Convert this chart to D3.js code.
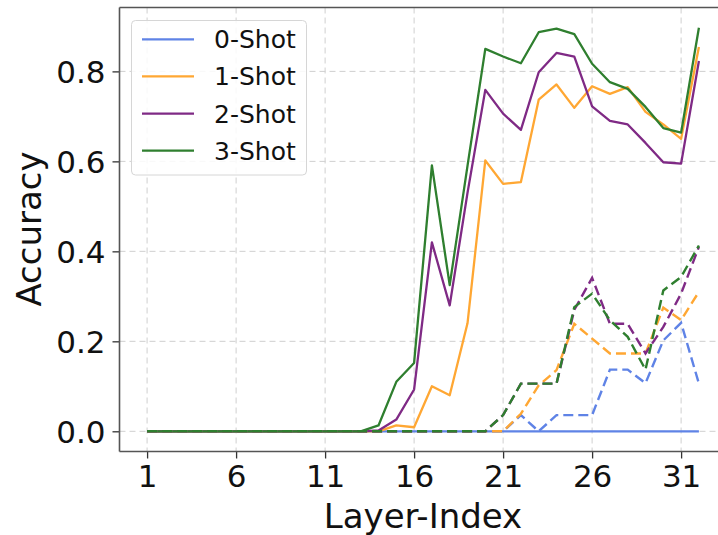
<!DOCTYPE html>
<html><head><meta charset="utf-8">
<script src="https://cdn.jsdelivr.net/npm/d3@7"></script>
<style>body{margin:0;background:#fff;} svg{display:block;font-family:"DejaVu Sans",sans-serif;}</style>
</head><body>
<svg id="c" width="718" height="535"></svg>
<script>
const layers = [1,2,3,4,5,6,7,8,9,10,11,12,13,14,15,16,17,18,19,20,21,22,23,24,25,26,27,28,29,30,31,32];
const xTicks = [1,6,11,16,21,26,31];
const yTicks = [0.0,0.2,0.4,0.6,0.8];
const seriesNames = ["0-Shot","1-Shot","2-Shot","3-Shot"];

// solid lines
const shot0 = [0,0,0,0,0,0,0,0,0,0,0,0,0,0,0,0,0,0,0,0,0,0,0,0,0,0,0,0,0,0,0,0];
const shot1 = [0,0,0,0,0,0,0,0,0,0,0,0,0,0,0.013,0.009,0.10,0.08,0.24,0.602,0.55,0.554,0.737,0.771,0.719,0.767,0.75,0.765,0.71,0.682,0.65,0.854];
const shot2 = [0,0,0,0,0,0,0,0,0,0,0,0,0,0.002,0.026,0.093,0.42,0.28,0.53,0.759,0.706,0.67,0.798,0.841,0.833,0.722,0.69,0.682,0.641,0.598,0.595,0.823];
const shot3 = [0,0,0,0,0,0,0,0,0,0,0,0,0,0.013,0.11,0.152,0.591,0.325,0.59,0.85,0.833,0.818,0.887,0.895,0.883,0.817,0.776,0.761,0.721,0.674,0.664,0.897];
// dashed lines
const dash0 = [0,0,0,0,0,0,0,0,0,0,0,0,0,0,0,0,0,0,0,0,0,0.036,0,0.036,0.036,0.036,0.137,0.137,0.107,0.202,0.241,0.106];
const dash1 = [0,0,0,0,0,0,0,0,0,0,0,0,0,0,0,0,0,0,0,0,0,0.039,0.102,0.136,0.239,0.206,0.173,0.173,0.173,0.275,0.247,0.31];
const dash2 = [0,0,0,0,0,0,0,0,0,0,0,0,0,0,0,0,0,0,0,0,0.036,0.106,0.106,0.106,0.27,0.341,0.239,0.239,0.173,0.232,0.306,0.41];
const dash3 = [0,0,0,0,0,0,0,0,0,0,0,0,0,0,0,0,0,0,0,0,0.036,0.106,0.106,0.106,0.276,0.306,0.247,0.21,0.137,0.313,0.343,0.413];

const colors = ["#5f83e6","#ffa733","#7f2a85","#2f7f2f"];
const solids = [shot0,shot1,shot2,shot3];
const dashes = [dash0,dash1,dash2,dash3];

(function(){
const svg = d3.select("#c");
const pL = 119.5, pR = 726.5, pT = 7.5, pB = 451.5;
const x = d3.scaleLinear().domain([-0.55, 33.55]).range([pL, pR]);
const y = d3.scaleLinear().domain([-0.0449, 0.942]).range([pB, pT]);

svg.append("defs").append("clipPath").attr("id","clip")
  .append("rect").attr("x",pL).attr("y",pT).attr("width",pR-pL).attr("height",pB-pT);

// grid
const grid = svg.append("g");
grid.selectAll(".gx").data(xTicks).join("line")
  .attr("x1",d=>x(d)).attr("x2",d=>x(d)).attr("y1",pT).attr("y2",pB)
  .attr("stroke","#cfcfcf").attr("stroke-width",1).attr("stroke-dasharray","6,4");
grid.selectAll(".gy").data(yTicks).join("line")
  .attr("x1",pL).attr("x2",pR).attr("y1",d=>y(d)).attr("y2",d=>y(d))
  .attr("stroke","#cfcfcf").attr("stroke-width",1).attr("stroke-dasharray","6,4");

// axes
const xAxis = d3.axisBottom(x).tickValues(xTicks).tickFormat(d3.format("d")).tickSizeOuter(0).tickSize(7).tickPadding(6);
const yAxis = d3.axisLeft(y).tickValues(yTicks).tickFormat(d3.format(".1f")).tickSizeOuter(0).tickSize(7).tickPadding(7);
const gx = svg.append("g").attr("transform",`translate(0,${pB})`).call(xAxis);
const gy = svg.append("g").attr("transform",`translate(${pL},0)`).call(yAxis);
[gx,gy].forEach(g=>{
  g.select(".domain").remove();
  g.selectAll(".tick line").attr("stroke","#333").attr("stroke-width",1.3);
  g.selectAll(".tick text").attr("font-size",31).attr("fill","#111").attr("font-family","DejaVu Sans");
});
gy.selectAll(".tick text").attr("dy","0.36em");

// lines
const line = d3.line().x((d,i)=>x(layers[i])).y(d=>y(d));
const plot = svg.append("g").attr("clip-path","url(#clip)");
solids.forEach((s,i)=>{
  plot.append("path").datum(s).attr("d",line).attr("fill","none")
    .attr("stroke",colors[i]).attr("stroke-width",2.3).attr("stroke-linejoin","round");
});
dashes.forEach((s,i)=>{
  plot.append("path").datum(s).attr("d",line).attr("fill","none")
    .attr("stroke",colors[i]).attr("stroke-width",2.4).attr("stroke-dasharray","10,5");
});

// spines
svg.append("line").attr("x1",pL).attr("x2",pL).attr("y1",pT).attr("y2",pB).attr("stroke","#555").attr("stroke-width",1.6);
svg.append("line").attr("x1",pL).attr("x2",pR).attr("y1",pB).attr("y2",pB).attr("stroke","#555").attr("stroke-width",1.6);
svg.append("line").attr("x1",pL).attr("x2",pR).attr("y1",pT).attr("y2",pT).attr("stroke","#555").attr("stroke-width",1.6);

// labels
svg.append("text").attr("x",(x(1)+x(32))/2).attr("y",528).attr("text-anchor","middle")
  .attr("font-size",34).attr("fill","#111").text("Layer-Index");
svg.append("text").attr("transform","translate(41,229) rotate(-90)").attr("text-anchor","middle")
  .attr("font-size",34).attr("fill","#111").text("Accuracy");

// legend
const lg = svg.append("g");
lg.append("rect").attr("x",131.5).attr("y",20.5).attr("width",175).attr("height",154.5).attr("rx",4)
  .attr("fill","#fff").attr("fill-opacity",0.85).attr("stroke","#d6d6d6").attr("stroke-width",1);
const ly = [39.3,76.3,113.7,150.7];
seriesNames.forEach((n,i)=>{
  lg.append("line").attr("x1",142).attr("x2",194).attr("y1",ly[i]).attr("y2",ly[i])
    .attr("stroke",colors[i]).attr("stroke-width",2.3);
  lg.append("text").attr("x",214).attr("y",ly[i]+9).attr("font-size",25).attr("fill","#111").text(n);
});
})();
</script>
</body></html>
